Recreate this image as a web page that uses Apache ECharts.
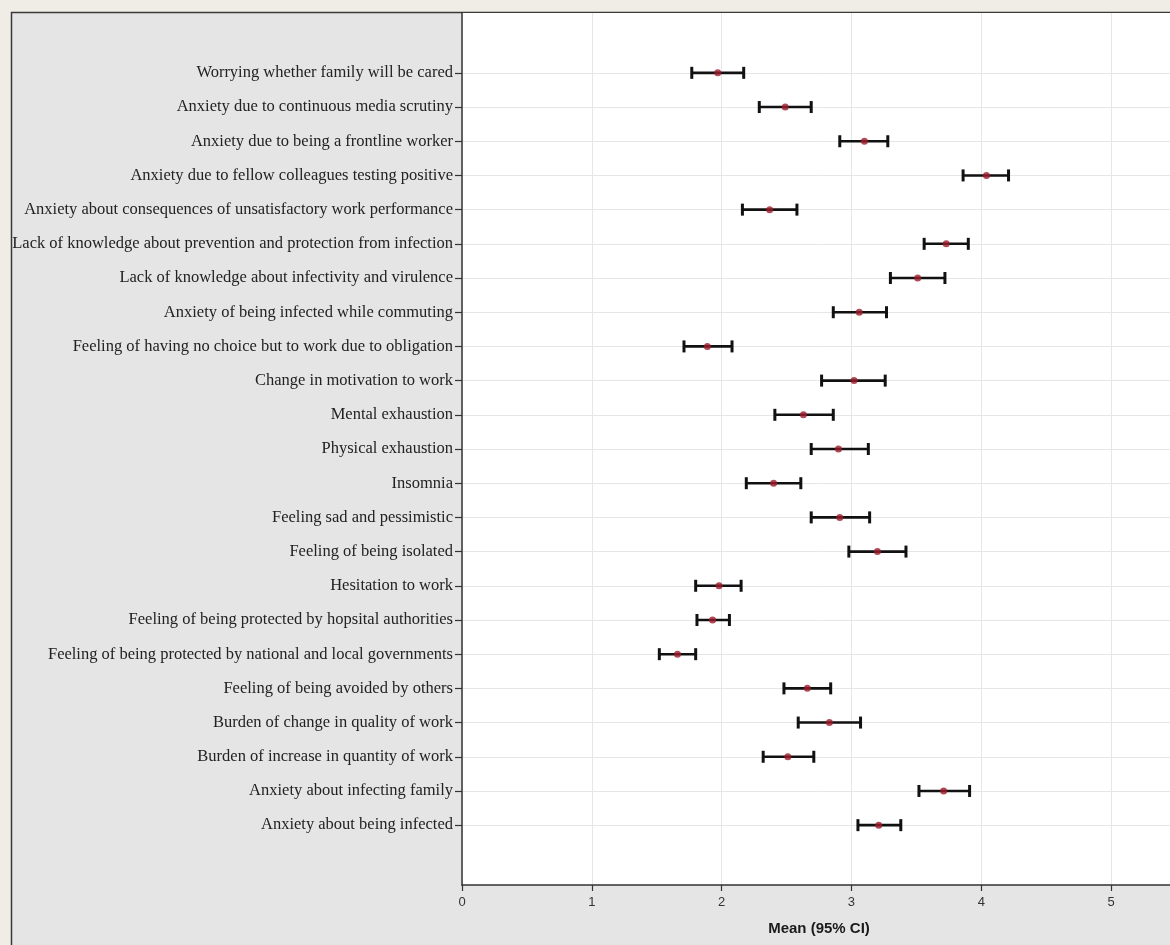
<!DOCTYPE html>
<html>
<head>
<meta charset="utf-8">
<script src="https://cdn.jsdelivr.net/npm/echarts@6/dist/echarts.min.js"></script>
<style>
  html, body { margin: 0; padding: 0; background: #f0ede6; }
  #chart { width: 1170px; height: 945px; }
</style>
</head>
<body>
<div id="chart"></div>
<script>
// Stress items, listed top to bottom
const items = [
  'Worrying whether family will be cared',
  'Anxiety due to continuous media scrutiny',
  'Anxiety due to being a frontline worker',
  'Anxiety due to fellow colleagues testing positive',
  'Anxiety about consequences of unsatisfactory work performance',
  'Lack of knowledge about prevention and protection from infection',
  'Lack of knowledge about infectivity and virulence',
  'Anxiety of being infected while commuting',
  'Feeling of having no choice but to work due to obligation',
  'Change in motivation to work',
  'Mental exhaustion',
  'Physical exhaustion',
  'Insomnia',
  'Feeling sad and pessimistic',
  'Feeling of being isolated',
  'Hesitation to work',
  'Feeling of being protected by hopsital authorities',
  'Feeling of being protected by national and local governments',
  'Feeling of being avoided by others',
  'Burden of change in quality of work',
  'Burden of increase in quantity of work',
  'Anxiety about infecting family',
  'Anxiety about being infected'
];

// Mean score per item
const means = [1.97, 2.49, 3.10, 4.04, 2.37, 3.73, 3.51, 3.06, 1.89, 3.02, 2.63, 2.90,
               2.40, 2.91, 3.20, 1.98, 1.93, 1.66, 2.66, 2.83, 2.51, 3.71, 3.21];
// Lower bound of the 95% CI
const ciLow = [1.77, 2.29, 2.91, 3.86, 2.16, 3.56, 3.30, 2.86, 1.71, 2.77, 2.41, 2.69,
               2.19, 2.69, 2.98, 1.80, 1.81, 1.52, 2.48, 2.59, 2.32, 3.52, 3.05];
// Upper bound of the 95% CI
const ciHigh = [2.17, 2.69, 3.28, 4.21, 2.58, 3.90, 3.72, 3.27, 2.08, 3.26, 2.86, 3.13,
                2.61, 3.14, 3.42, 2.15, 2.06, 1.80, 2.84, 3.07, 2.71, 3.91, 3.38];

// Value-axis tick labels
const xTicks = [0, 1, 2, 3, 4, 5];

const rowIdx = items.map((_, i) => i);
const barData = items.map((_, i) => [i, ciLow[i], ciHigh[i]]);
const meanData = items.map((_, i) => [means[i], i]);

const chart = echarts.init(document.getElementById('chart'));

// Horizontal CI bar with end caps
function renderCI(params, api) {
  const i = api.value(0);
  const a = api.coord([api.value(1), i]);
  const b = api.coord([api.value(2), i]);
  const h = 6;
  const capStyle = { stroke: '#111', lineWidth: 3 };
  return {
    type: 'group',
    children: [
      { type: 'line', shape: { x1: a[0], y1: a[1], x2: b[0], y2: b[1] }, style: { stroke: '#111', lineWidth: 2.6 } },
      { type: 'line', shape: { x1: a[0], y1: a[1] - h, x2: a[0], y2: a[1] + h }, style: capStyle },
      { type: 'line', shape: { x1: b[0], y1: b[1] - h, x2: b[0], y2: b[1] + h }, style: capStyle }
    ]
  };
}

chart.setOption({
  animation: false,
  backgroundColor: '#f0ede6',
  graphic: [
    {
      type: 'rect',
      z: -10,
      silent: true,
      shape: { x: 11.5, y: 12.5, width: 1200, height: 1000 },
      style: { fill: '#e4e5e4', stroke: '#3a3a3a', lineWidth: 1.5 }
    }
  ],
  grid: {
    left: 462,
    width: 714,
    top: 13,
    bottom: 60,
    show: true,
    backgroundColor: '#ffffff',
    borderWidth: 0,
    containLabel: false,
    outerBoundsMode: 'none'
  },
  xAxis: {
    type: 'value',
    min: 0,
    max: 5.5,
    interval: 1,
    name: 'Mean (95% CI)',
    nameLocation: 'middle',
    nameGap: 36,
    nameTextStyle: { fontFamily: 'Liberation Sans', fontWeight: 'bold', fontSize: 15, color: '#1a1a1a' },
    axisLine: { show: true, onZero: false, lineStyle: { color: '#333', width: 1.5 } },
    axisTick: { show: true, length: 6, lineStyle: { color: '#333', width: 1.2 } },
    axisLabel: {
      fontFamily: 'Liberation Sans', fontSize: 13, color: '#333', margin: 11,
      formatter: v => (xTicks.indexOf(v) >= 0 ? String(v) : '')
    },
    splitLine: { show: true, lineStyle: { color: '#e6e6e6', width: 1 } }
  },
  yAxis: {
    type: 'value',
    inverse: true,
    min: -1.75,
    max: 23.75,
    axisLine: { show: true, onZero: false, lineStyle: { color: '#333', width: 1.5 } },
    axisTick: { show: true, length: 7, customValues: rowIdx, lineStyle: { color: '#333', width: 1.2 } },
    axisLabel: {
      customValues: rowIdx,
      fontFamily: 'Liberation Serif', fontSize: 16.5, color: '#222', margin: 9,
      formatter: v => items[v] || ''
    },
    splitLine: { show: true, lineStyle: { color: '#e6e6e6', width: 1 } }
  },
  series: [
    {
      type: 'custom',
      renderItem: renderCI,
      data: barData,
      encode: { x: [1, 2], y: 0 },
      z: 3
    },
    {
      type: 'scatter',
      data: meanData,
      symbol: 'circle',
      symbolSize: 7,
      itemStyle: { color: '#9e1d2c' },
      z: 4
    }
  ]
});
</script>
</body>
</html>
